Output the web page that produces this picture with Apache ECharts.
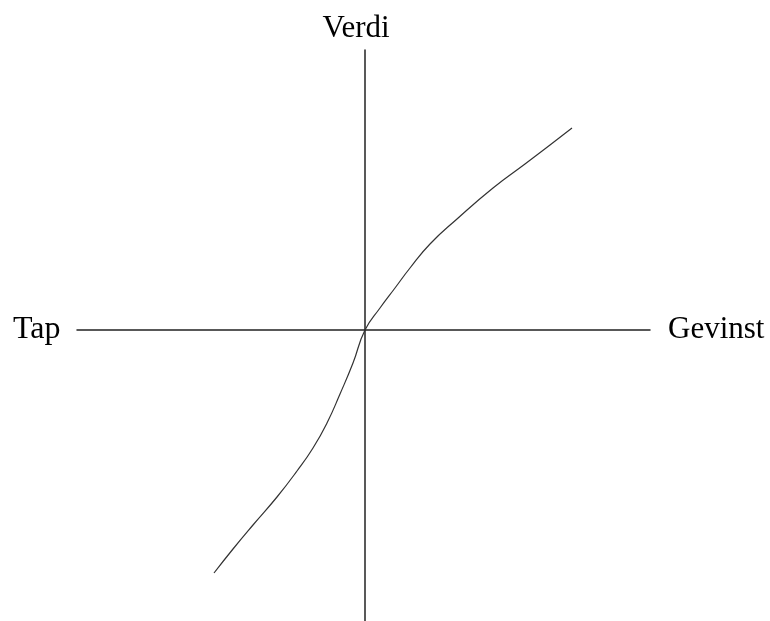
<!DOCTYPE html>
<html>
<head>
<meta charset="utf-8">
<script src="https://cdn.jsdelivr.net/npm/echarts@6/dist/echarts.min.js"></script>
<style>
  html, body { margin: 0; padding: 0; background: #fff; }
  #chart { width: 770px; height: 621px; }
</style>
</head>
<body>
<div id="chart"></div>
<script>
// verdifunksjon: tap (negativ) til gevinst (positiv)
const gainLoss = [-151, -132, -112, -88, -68, -52, -38, -25, -12, 0, 15, 30, 45, 65, 92, 128, 160, 185, 207];
const value = [-243, -219, -195, -167, -141, -118, -93, -64, -33, 0, 22, 42, 62, 86, 111, 142, 166, 185, 202];
const xRange = [-288, 285];
const yRange = [-291, 280];

const font = '"Liberation Serif", "DejaVu Serif", serif';
const chart = echarts.init(document.getElementById('chart'));

chart.setOption({
  animation: false,
  grid: { left: 77, right: 120, top: 50, bottom: 0 },
  xAxis: {
    type: 'value',
    min: xRange[0],
    max: xRange[1],
    name: 'Gevinst',
    nameLocation: 'end',
    nameGap: 18,
    nameTextStyle: { fontFamily: font, fontSize: 31, color: '#000', verticalAlign: 'middle' },
    axisLine: { onZero: true, lineStyle: { color: '#222', width: 1.5 } },
    axisTick: { show: false },
    axisLabel: { show: false },
    splitLine: { show: false }
  },
  yAxis: {
    type: 'value',
    min: yRange[0],
    max: yRange[1],
    name: 'Verdi',
    nameLocation: 'end',
    nameGap: 6,
    nameTextStyle: { fontFamily: font, fontSize: 31, color: '#000', align: 'center', padding: [0, 18, 0, 0] },
    axisLine: { onZero: true, lineStyle: { color: '#222', width: 1.5 } },
    axisTick: { show: false },
    axisLabel: { show: false },
    splitLine: { show: false }
  },
  graphic: [{
    type: 'text',
    left: 13,
    top: 314,
    style: { text: 'Tap', fontFamily: font, fontSize: 32, fill: '#000' }
  }],
  series: [{
    type: 'line',
    smooth: 0.5,
    showSymbol: false,
    data: gainLoss.map((x, i) => [x, value[i]]),
    lineStyle: { color: '#333', width: 1.2 }
  }]
});
</script>
</body>
</html>
